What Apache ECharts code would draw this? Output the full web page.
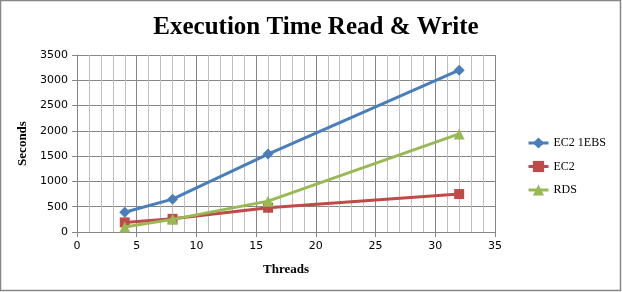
<!DOCTYPE html>
<html>
<head>
<meta charset="utf-8">
<script src="https://cdn.jsdelivr.net/npm/echarts@6/dist/echarts.min.js"></script>
<style>
html,body{margin:0;padding:0;background:#fff;}
#c{width:622px;height:292px;}
</style>
</head>
<body>
<div id="c"></div>
<script>
const seriesNames = ['EC2 1EBS', 'EC2', 'RDS'];
const threads = [4, 8, 16, 32];
const ec2ebs = [390, 650, 1540, 3200];
const ec2 = [190, 260, 480, 750];
const rds = [100, 250, 610, 1940];
const colors = ['#4A7EBB', '#BE4B48', '#98B954'];
const symbols = ['diamond', 'rect', 'triangle'];
const symbolSizes = [11, 10, 11];
const values = [ec2ebs, ec2, rds];

const chart = echarts.init(document.getElementById('c'), null, {renderer: 'canvas'});
const serif = '"Liberation Serif", "DejaVu Serif", serif';
const tickFont = '"DejaVu Sans", Verdana, sans-serif';

chart.setOption({
  animation: false,
  backgroundColor: '#fff',
  title: {
    text: 'Execution Time Read & Write',
    top: 10,
    left: 311,
    textAlign: 'center',
    textStyle: {fontFamily: serif, fontWeight: 'bold', fontSize: 25, color: '#000'}
  },
  legend: {
    orient: 'vertical',
    left: 522,
    top: 132,
    itemGap: 11.5,
    itemWidth: 20,
    itemHeight: 14,
    data: seriesNames,
    lineStyle: {width: 3},
    textStyle: {fontFamily: serif, fontSize: 12, color: '#000', padding: [0, 0, 0, 0]}
  },
  grid: {left: 77, right: 127, top: 55, bottom: 60, containLabel: false},
  xAxis: {
    type: 'value', min: 0, max: 35, interval: 5,
    name: 'Threads', nameLocation: 'middle', nameGap: 31,
    nameTextStyle: {fontFamily: serif, fontWeight: 'bold', fontSize: 13, color: '#000'},
    axisLine: {show: true, lineStyle: {color: '#868686', width: 1}},
    axisTick: {show: true, length: 5, inside: false, lineStyle: {color: '#868686'}},
    minorTick: {show: false},
    axisLabel: {fontFamily: tickFont, fontSize: 11, color: '#000', margin: 9},
    splitLine: {show: true, lineStyle: {color: '#868686', width: 1}},
    minorSplitLine: {show: true, lineStyle: {color: '#BFBFBF', width: 1}}
  },
  yAxis: {
    type: 'value', min: 0, max: 3500, interval: 500,
    name: 'Seconds', nameLocation: 'middle', nameGap: 46, nameRotate: 90,
    nameTextStyle: {fontFamily: serif, fontWeight: 'bold', fontSize: 13, color: '#000'},
    axisLine: {show: true, lineStyle: {color: '#868686', width: 1}},
    axisTick: {show: true, length: 5, inside: false, lineStyle: {color: '#868686'}},
    axisLabel: {fontFamily: tickFont, fontSize: 11, color: '#000', margin: 9, formatter: v => String(v)},
    splitLine: {show: true, lineStyle: {color: '#868686', width: 1}}
  },
  series: seriesNames.map((n, i) => ({
    name: n,
    type: 'line',
    data: threads.map((t, j) => [t, values[i][j]]),
    symbol: symbols[i],
    symbolSize: symbolSizes[i],
    showAllSymbol: true,
    lineStyle: {color: colors[i], width: 3},
    itemStyle: {color: colors[i]},
    z: 3 + i
  })),
  graphic: [{
    type: 'rect',
    shape: {x: 0.5, y: 0.5, width: 620, height: 290},
    style: {fill: 'none', stroke: '#878787', lineWidth: 1.5},
    silent: true
  }]
});
</script>
</body>
</html>
